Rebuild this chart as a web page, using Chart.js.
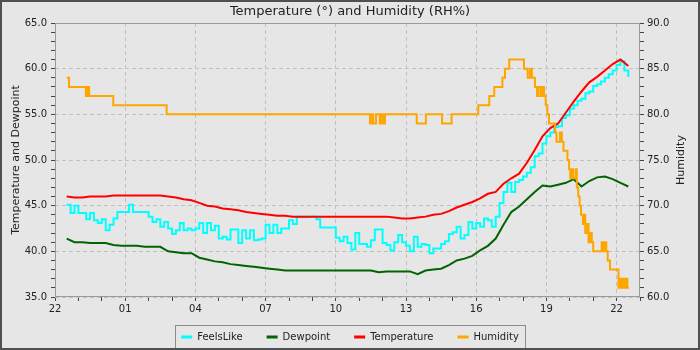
<!DOCTYPE html>
<html lang="en">
<head>
<meta charset="UTF-8">
<title>Temperature and Humidity</title>
<script src="https://cdn.jsdelivr.net/npm/chart.js"></script>
<style>
  html, body { margin: 0; padding: 0; background: #e6e6e6; }
</style>
</head>
<body>
<canvas id="grafico" width="700" height="350"></canvas>
<script>
// x values are hours counted from 22:00 of the first day
const firstHour = 22;
const startAt = 0.5;          // first reading at 22:30

// Temperature and Dewpoint, one reading every 20 minutes
const temperature = [
  46.0, 45.9, 45.9, 46.0, 46.0, 46.0, 46.1, 46.1, 46.1, 46.1, 46.1, 46.1, 46.1,
  46.0, 45.9, 45.7, 45.6, 45.3, 45.0, 44.9, 44.7, 44.6, 44.5, 44.3, 44.2,
  44.1, 44.0, 43.9, 43.9, 43.8, 43.8,
  43.8, 43.8, 43.8, 43.8, 43.8, 43.8, 43.8, 43.8, 43.8, 43.8, 43.8,
  43.7, 43.6, 43.6, 43.7, 43.8, 44.0, 44.1, 44.4,
  44.8, 45.1, 45.4, 45.8, 46.3, 46.5, 47.4, 48.0, 48.5, 49.7,
  51.1, 52.6, 53.5, 54.0, 55.2, 56.4, 57.5, 58.5, 59.1, 59.8, 60.5, 61.0, 60.3
];
const dewpoint = [
  41.4, 41.0, 41.0, 40.9, 40.9, 40.9, 40.7, 40.6, 40.6, 40.6, 40.5, 40.5, 40.5,
  40.0, 39.9, 39.8, 39.8, 39.3, 39.1, 38.9, 38.8, 38.6, 38.5, 38.4, 38.3,
  38.2, 38.1, 38.0, 37.9,
  37.9, 37.9, 37.9, 37.9, 37.9, 37.9, 37.9, 37.9, 37.9, 37.9, 37.9,
  37.7, 37.8, 37.8, 37.8, 37.8, 37.5, 37.9, 38.0, 38.1, 38.5,
  39.0, 39.2, 39.5, 40.1, 40.6, 41.4, 42.9, 44.3, 44.9, 45.7,
  46.5, 47.2, 47.1, 47.3, 47.5, 47.9, 47.1, 47.7, 48.1, 48.2, 47.9, 47.5, 47.1
];

// FeelsLike, one reading every 10 minutes
const feelsLike = [
  45.1, 44.2, 45.0, 44.2, 44.2, 43.5, 44.2, 43.4, 43.1, 43.5,
  42.3, 42.9, 43.6, 44.3, 44.3, 44.3, 45.1, 44.3, 44.3, 44.3,
  44.3, 43.8, 43.2, 43.5, 42.7, 43.2, 42.5, 41.9, 42.3, 43.1,
  42.3, 42.5, 42.3, 42.5, 43.1, 42.0, 43.1, 42.3, 42.8, 41.4,
  41.6, 41.3, 42.4, 42.4, 40.9, 42.3, 41.4, 42.3, 41.2, 41.3,
  41.4, 42.9, 42.0, 42.9, 42.0, 42.5, 42.5, 43.4, 43.0, 43.8,
  43.8, 43.8, 43.8, 43.8, 43.5, 42.6, 42.6, 42.6, 42.6, 41.5,
  41.1, 41.6, 40.9, 40.2, 42.0, 40.8, 40.8, 40.5, 41.2, 42.4,
  42.4, 40.9, 40.7, 40.1, 41.0, 41.8, 41.0, 40.6, 40.0, 41.6,
  40.5, 40.8, 40.7, 39.8, 40.3, 40.3, 40.8, 41.1, 41.9, 42.1,
  42.7, 41.4, 41.8, 43.2, 42.5, 43.1, 42.7, 43.6, 43.4, 42.7,
  43.8, 45.3, 46.5, 47.5, 46.5, 47.6, 47.8, 48.2, 48.6, 49.2,
  50.4, 50.7, 51.8, 52.6, 53.0, 53.6, 53.7, 54.6, 54.9, 55.6,
  56.0, 56.5, 56.7, 57.3, 57.5, 58.1, 58.3, 58.6, 59.0, 59.4,
  59.8, 60.4, 60.8, 59.8, 59.1
];

// Humidity only changes in whole steps: hour where each new value starts
const humidityHours = [
  0.5, 0.6, 1.32, 1.4, 1.46, 2.49, 4.77,
  13.46, 13.55, 13.6, 13.72, 13.88, 13.95, 14.04, 14.1,
  15.46, 15.85, 16.54, 16.95,
  18.09, 18.56, 18.77, 19.12, 19.23, 19.41,
  20.04, 20.2, 20.3, 20.38, 20.51, 20.6, 20.66, 20.76, 20.82, 20.9, 20.97, 21.04, 21.11,
  21.37, 21.43, 21.58, 21.66, 21.73, 21.9, 21.97, 22.02, 22.08, 22.14, 22.25, 22.3,
  22.36, 22.42, 22.48, 22.56, 22.62, 22.66, 22.75, 22.8, 22.88, 22.94, 23.0,
  23.36, 23.42, 23.5, 23.56, 23.62, 23.72, 24.08, 24.14, 24.2, 24.26, 24.32, 24.4, 24.46, 24.53
];
const humidityValues = [
  84, 83, 82, 83, 82, 81, 80,
  79, 80, 79, 80, 79, 80, 79, 80,
  79, 80, 79, 80,
  81, 82, 83, 84, 85, 86,
  85, 84, 85, 84, 83, 82, 83, 82, 83, 82, 81, 80, 79,
  78, 77, 78, 77, 76, 75, 74, 73, 74, 73, 74, 72,
  71, 70, 69, 68, 69, 67, 68, 66, 67, 66, 65,
  66, 65, 66, 65, 64, 63, 61, 62, 61, 62, 61, 62, 61, 61
];

const porIntervalo = (valores, paso) => valores.map((v, i) => ({ x: startAt + i * paso, y: v }));
const humedad = humidityHours.map((h, i) => ({ x: h, y: humidityValues[i] }));

const hora = v => String((firstHour + v) % 24).padStart(2, '0');

Chart.defaults.font.family = "'DejaVu Sans', sans-serif";
Chart.defaults.color = '#222';

const fondoYMarco = {
  id: 'fondoYMarco',
  beforeDraw(chart) {
    const ctx = chart.ctx;
    ctx.save();
    ctx.fillStyle = '#e6e6e6';
    ctx.fillRect(0, 0, chart.width, chart.height);
    ctx.restore();
  },
  afterLayout(chart) {
    // la leyenda queda mas arriba de lo que pide su relleno
    chart.legend.top -= 7;
    chart.legend.bottom -= 7;
  },
  afterDraw(chart) {
    const { ctx, chartArea: a } = chart;
    ctx.save();
    // borde del area de datos
    ctx.strokeStyle = '#9a9a9a';
    ctx.lineWidth = 1;
    ctx.strokeRect(a.left + 0.5, a.top + 0.5, a.right - a.left - 1, a.bottom - a.top - 1);

    // recuadro de la leyenda
    const cajas = chart.legend.legendHitBoxes;
    if (cajas.length) {
      const ult = cajas[cajas.length - 1];
      const x0 = Math.round(cajas[0].left) - 6;
      const x1 = Math.round(ult.left + ult.width) + 6;
      const y0 = Math.round(cajas[0].top) - 7;
      ctx.strokeStyle = '#8c8c8c';
      ctx.strokeRect(x0 + 0.5, y0 + 0.5, x1 - x0, chart.height - y0 + 5);
    }

    // titulo del eje derecho, leido de abajo hacia arriba
    ctx.fillStyle = '#222';
    ctx.font = "11px 'DejaVu Sans'";
    ctx.textAlign = 'center';
    ctx.textBaseline = 'middle';
    ctx.translate(681, (a.top + a.bottom) / 2);
    ctx.rotate(-Math.PI / 2);
    ctx.fillText('Humidity', 0, 0);
    ctx.setTransform(1, 0, 0, 1, 0, 0);

    // marco exterior
    ctx.strokeStyle = '#505050';
    ctx.lineWidth = 2;
    ctx.strokeRect(1, 1, chart.width - 2, chart.height - 2);
    ctx.restore();
  }
};

const gridMayor = (cada, color) => ctx => (ctx.tick && ctx.tick.value % cada === 0) ? color : 'rgba(0,0,0,0)';

new Chart(document.getElementById('grafico'), {
  type: 'line',
  data: {
    datasets: [
      {
        label: 'FeelsLike',
        data: porIntervalo(feelsLike, 1 / 6),
        borderColor: '#00ffff',
        backgroundColor: '#00ffff',
        stepped: true,
        yAxisID: 'y',
        order: 4
      },
      {
        label: 'Dewpoint',
        data: porIntervalo(dewpoint, 1 / 3),
        borderColor: '#006400',
        backgroundColor: '#006400',
        yAxisID: 'y',
        order: 3
      },
      {
        label: 'Temperature',
        data: porIntervalo(temperature, 1 / 3),
        borderColor: '#ff0000',
        backgroundColor: '#ff0000',
        yAxisID: 'y',
        order: 2
      },
      {
        label: 'Humidity',
        data: humedad,
        borderColor: '#ffa500',
        backgroundColor: '#ffa500',
        stepped: true,
        yAxisID: 'y2',
        order: 1
      }
    ]
  },
  options: {
    responsive: false,
    animation: false,
    devicePixelRatio: 1,
    layout: { padding: 0 },
    elements: {
      point: { radius: 0 },
      line: { borderWidth: 2, tension: 0 }
    },
    plugins: {
      title: {
        display: true,
        text: 'Temperature (°) and Humidity (RH%)',
        font: { size: 13, weight: 'normal' },
        padding: { top: 4, bottom: 3.4 },
        color: '#222'
      },
      legend: {
        position: 'bottom',
        reverse: true,
        maxHeight: 35,
        labels: {
          boxWidth: 11,
          boxHeight: 3,
          padding: 24,
          font: { size: 10 },
          color: '#222',
          generateLabels: chart => Chart.defaults.plugins.legend.labels.generateLabels(chart)
            .map(item => ({ ...item, lineWidth: 0 }))
        }
      },
      tooltip: { enabled: false }
    },
    scales: {
      x: {
        type: 'linear',
        min: 0,
        max: 25,
        afterFit: s => { s.height = 18; },
        border: { display: false, dash: [4, 3] },
        grid: {
          color: gridMayor(3, '#c0c0c0'),
          tickColor: '#444',
          tickLength: 4
        },
        ticks: {
          stepSize: 1,
          autoSkip: false,
          maxRotation: 0,
          padding: 2,
          font: { size: 10 },
          color: '#222',
          callback: v => (v % 3 === 0 ? hora(v) : '')
        }
      },
      y: {
        position: 'left',
        min: 35,
        max: 65,
        afterFit: s => { s.width = 55; },
        border: { display: false, dash: [4, 3] },
        grid: {
          color: gridMayor(5, '#c0c0c0'),
          tickColor: '#444',
          tickLength: 4
        },
        ticks: {
          stepSize: 1,
          autoSkip: false,
          padding: 4,
          font: { size: 10 },
          color: '#222',
          callback: v => (v % 5 === 0 ? v.toFixed(1) : '')
        },
        title: {
          display: true,
          text: 'Temperature and Dewpoint',
          font: { size: 11 },
          color: '#222',
          padding: { top: 10, bottom: 0 }
        }
      },
      y2: {
        position: 'right',
        min: 60,
        max: 90,
        afterFit: s => { s.width = 60; },
        border: { display: false },
        grid: {
          drawOnChartArea: false,
          tickColor: '#444',
          tickLength: 4
        },
        ticks: {
          stepSize: 1,
          autoSkip: false,
          padding: 3,
          font: { size: 10 },
          color: '#222',
          callback: v => (v % 5 === 0 ? v.toFixed(1) : '')
        }
      }
    }
  },
  plugins: [fondoYMarco]
});
</script>
</body>
</html>
